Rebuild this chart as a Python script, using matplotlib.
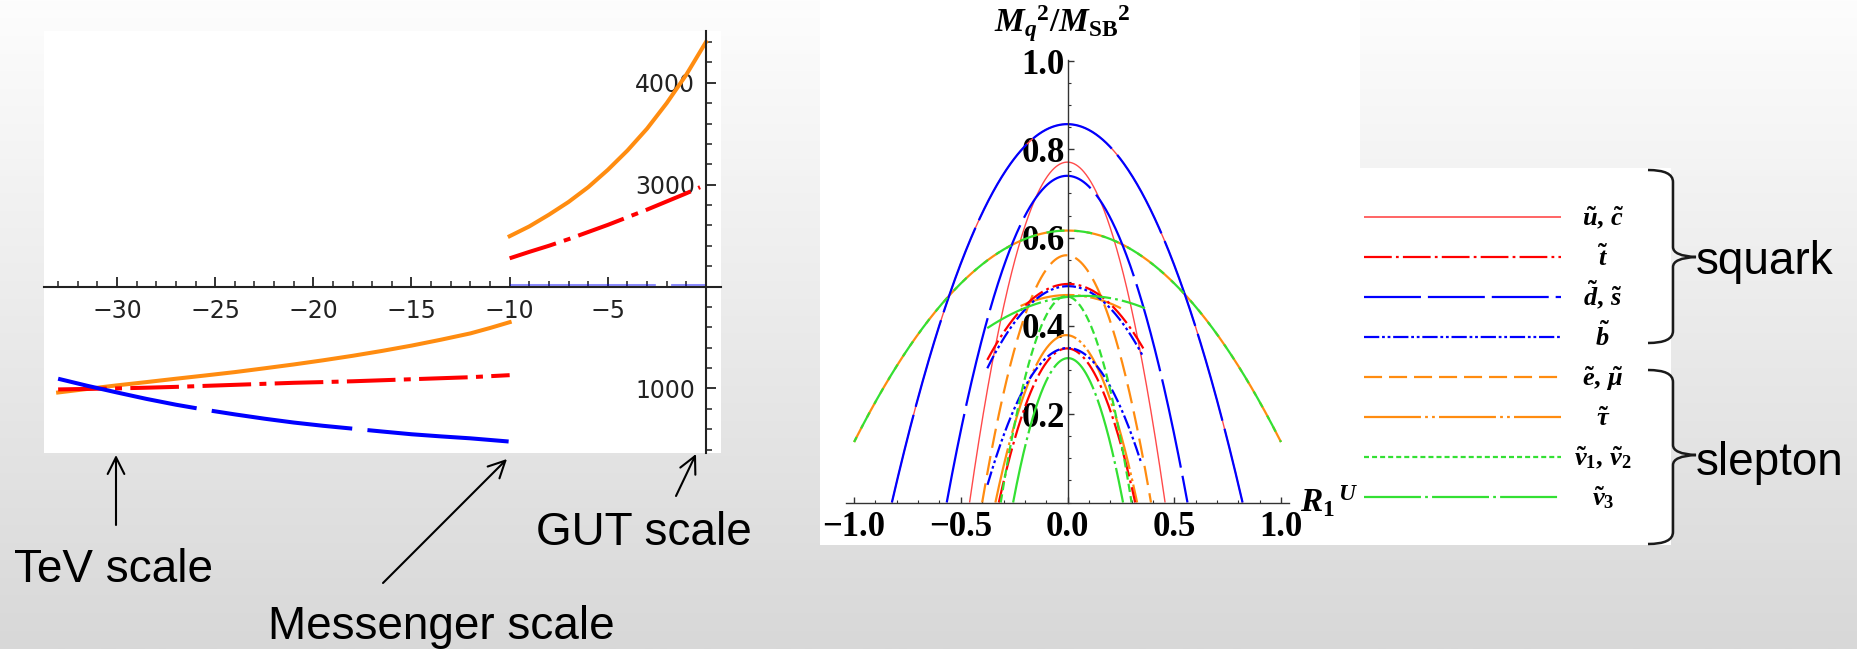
import numpy as np
import matplotlib
matplotlib.use("Agg")
import matplotlib.pyplot as plt
from matplotlib.colors import LinearSegmentedColormap
from matplotlib.patches import Rectangle, PathPatch
from matplotlib.path import Path
from matplotlib.ticker import MultipleLocator

plt.rcParams["lines.scale_dashes"] = False
plt.rcParams["mathtext.fontset"] = "custom"
plt.rcParams["mathtext.rm"] = "Liberation Serif:bold"
plt.rcParams["mathtext.it"] = "Liberation Serif:italic:bold"
plt.rcParams["mathtext.bf"] = "Liberation Serif:bold"

# ---- left panel: running masses vs log scale ----
x_low = [-33, -31.5, -30, -28.5, -27, -25.5, -24, -22.5, -21, -19.5, -18, -16.5, -15, -13.5, -12, -11, -10]
orange_low = [960, 995, 1030, 1062, 1095, 1127, 1160, 1197, 1235, 1276, 1320, 1368, 1420, 1478, 1540, 1593, 1650]
red_low = [990, 995, 1000, 1007, 1015, 1025, 1035, 1045, 1055, 1062, 1070, 1080, 1090, 1100, 1110, 1120, 1130]
blue_low = [1095, 1025, 960, 897, 840, 790, 745, 703, 665, 633, 605, 577, 550, 529, 510, 494, 478]

x_high = [-10, -9, -8, -7, -6, -5, -4, -3, -2, -1, 0]
orange_high = [2494, 2590, 2705, 2830, 2975, 3145, 3335, 3550, 3800, 4080, 4400]
x_red_high = [-10, -9, -8, -7, -6, -5, -4, -3, -2, -1, -0.3]
red_high = [2277, 2340, 2400, 2465, 2535, 2605, 2680, 2755, 2835, 2915, 2975]
x_blue_high = [-10, 0]
blue_high = [2005, 2005]

left_xticks = [-30, -25, -20, -15, -10, -5]
left_xlabels = ["\u221230", "\u221225", "\u221220", "\u221215", "\u221210", "\u22125"]
left_yticks = [1000, 2000, 3000, 4000]
left_ylabels = ["1000", "", "3000", "4000"]

# ---- right panel: M^2/M_SB^2 vs R1^U, three read points per curve ----
uc_x = [[-0.823, 0.0, 0.820], [-0.459, 0.0, 0.457]]
uc_y = [[0.0, 0.857, 0.0], [0.0, 0.771, 0.0]]
t_x = [[-0.376, 0.0, 0.355], [-0.322, 0.0, 0.317]]
t_y = [[0.323, 0.495, 0.349], [0.0, 0.349, 0.0]]
ds_x = [[-0.823, 0.0, 0.820], [-0.566, 0.0, 0.562]]
ds_y = [[0.0, 0.857, 0.0], [0.0, 0.740, 0.0]]
b_x = [[-0.376, 0.0, 0.355], [-0.375, 0.0, 0.345]]
b_y = [[0.304, 0.490, 0.330], [0.040, 0.350, 0.090]]
emu_x = [[-1.0, 0.0, 1.0], [-0.400, 0.0, 0.391]]
emu_y = [[0.137, 0.616, 0.137], [0.0, 0.560, 0.0]]
tau_x = [[-0.22, 0.0, 0.25], [-0.338, 0.0, 0.326]]
tau_y = [[0.445, 0.470, 0.440], [0.0, 0.379, 0.0]]
nu12_x = [[-1.0, 0.0, 1.0], [-0.313, 0.0, 0.300]]
nu12_y = [[0.137, 0.616, 0.137], [0.0, 0.467, 0.0]]
nu3_x = [[-0.376, 0.07, 0.363], [-0.255, 0.0, 0.260]]
nu3_y = [[0.395, 0.468, 0.440], [0.0, 0.327, 0.0]]

right_xticks = [-1.0, -0.5, 0.0, 0.5, 1.0]
right_xlabels = ["\u22121.0", "\u22120.5", "0.0", "0.5", "1.0"]
right_yticks = [0.2, 0.4, 0.6, 0.8, 1.0]
right_ylabels = ["0.2", "0.4", "0.6", "0.8", "1.0"]

legend_labels = [r"$\tilde{u},\,\tilde{c}$", r"$\tilde{t}$", r"$\tilde{d},\,\tilde{s}$",
                 r"$\tilde{b}$", r"$\tilde{e},\,\tilde{\mu}$", r"$\tilde{\tau}$",
                 r"$\tilde{\nu}_1,\,\tilde{\nu}_2$", r"$\tilde{\nu}_3$"]

RED = "#ff0000"
LRED = "#ff4a4a"
BLUE = "#0000ff"
ORANGE = "#ff8c10"
GREEN = "#33e033"

W, H = 1858, 649
fig = plt.figure(figsize=(W / 100, H / 100), dpi=100)

bg = fig.add_axes([0, 0, 1, 1])
bg.set_xlim(0, W)
bg.set_ylim(H, 0)
bg.axis("off")
grad = LinearSegmentedColormap.from_list("bg", ["#fdfdfd", "#d8d8d8"])
bg.imshow(np.linspace(0, 1, 256).reshape(-1, 1), extent=[0, W, H, 0], cmap=grad,
          aspect="auto", origin="upper", zorder=0)
bg.add_patch(Rectangle((43.6, 31), 677.1, 422, fc="white", ec="none", zorder=1))
bg.add_patch(Rectangle((820, 0), 540, 545, fc="white", ec="none", zorder=1))
bg.add_patch(Rectangle((1358, 168), 313, 377, fc="white", ec="none", zorder=1))


def fig_box(x0, y0, x1, y1):
    return [x0 / W, 1 - y1 / H, (x1 - x0) / W, (y1 - y0) / H]


# ---------------- left plot ----------------
axL = fig.add_axes(fig_box(43.6, 31, 720.7, 453))
axL.patch.set_visible(False)
lw = 2.9
axL.plot(x_blue_high, blue_high, color=BLUE, alpha=0.45, lw=lw, ls=(0, (105, 11)))
axL.plot(x_low, orange_low, color=ORANGE, lw=lw)
axL.plot(x_low, red_low, color=RED, lw=lw, ls=(0, (35, 6, 5, 6)))
axL.plot(x_low, blue_low, color=BLUE, lw=lw, ls=(0, (102, 11)))
axL.plot(x_high, orange_high, color=ORANGE, lw=lw)
axL.plot(x_red_high, red_high, color=RED, lw=lw, ls=(0, (35, 6, 5, 6)))
axL.set_xlim(-33.74, 0.75)
axL.set_ylim(366, 4508)
axL.spines["left"].set_position(("data", 0))
axL.spines["bottom"].set_position(("data", 2000))
axL.spines["top"].set_visible(False)
axL.spines["right"].set_visible(False)
for s in ["left", "bottom"]:
    axL.spines[s].set_color("#222222")
    axL.spines[s].set_linewidth(1.5)
axL.set_xticks(left_xticks)
axL.set_xticklabels(left_xlabels)
axL.set_yticks(left_yticks)
axL.set_yticklabels(left_ylabels)
axL.xaxis.set_minor_locator(MultipleLocator(1))
axL.yaxis.set_minor_locator(MultipleLocator(200))
axL.tick_params(axis="both", which="major", direction="in", length=7, width=1.3,
                color="#222222", labelsize=17, labelcolor="#222222")
axL.tick_params(axis="both", which="minor", direction="in", length=4, width=1.1, color="#222222")
axL.tick_params(axis="x", which="major", pad=9)
axL.tick_params(axis="y", which="major", pad=8)

# ---------------- right plot ----------------
axR = fig.add_axes(fig_box(846, 59.7, 1289.5, 502.5))
axR.patch.set_visible(False)

plot_style = {
    "uc": dict(color=LRED, lw=1.0, ls="-", zorder=2.0),
    "t": dict(color=RED, lw=1.6, ls=(0, (16, 3, 2, 3)), zorder=2.1),
    "ds": dict(color=BLUE, lw=1.6, ls=(0, (65, 6)), zorder=2.2),
    "b": dict(color=BLUE, lw=1.6, ls=(0, (10, 2.2, 2, 2.2, 2, 2.2)), zorder=2.1),
    "emu": dict(color=ORANGE, lw=1.6, ls=(0, (14, 6)), zorder=2.0),
    "tau": dict(color=ORANGE, lw=1.6, ls=(0, (40, 2.5, 2, 2.5, 2, 2.5)), zorder=2.0),
    "nu12": dict(color=GREEN, lw=1.6, ls=(0, (6, 3)), zorder=2.2),
    "nu3": dict(color=GREEN, lw=1.6, ls=(0, (43, 3, 2, 3)), zorder=2.2),
}
legend_style = {
    "uc": dict(color=LRED, lw=1.2, ls="-"),
    "t": dict(color=RED, lw=1.6, ls=(0, (20, 3, 2, 3))),
    "ds": dict(color=BLUE, lw=1.6, ls=(0, (41, 5))),
    "b": dict(color=BLUE, lw=1.6, ls=(0, (11, 2, 2, 2, 2, 2))),
    "emu": dict(color=ORANGE, lw=1.6, ls=(0, (13, 5))),
    "tau": dict(color=ORANGE, lw=1.6, ls=(0, (41, 3, 2, 3, 2, 3))),
    "nu12": dict(color=GREEN, lw=1.6, ls=(0, (3.6, 2.2))),
    "nu3": dict(color=GREEN, lw=1.6, ls=(0, (41, 3, 2, 3))),
}
species = ["uc", "t", "ds", "b", "emu", "tau", "nu12", "nu3"]
curve_x = {"uc": uc_x, "t": t_x, "ds": ds_x, "b": b_x, "emu": emu_x,
           "tau": tau_x, "nu12": nu12_x, "nu3": nu3_x}
curve_y = {"uc": uc_y, "t": t_y, "ds": ds_y, "b": b_y, "emu": emu_y,
           "tau": tau_y, "nu12": nu12_y, "nu3": nu3_y}

for sp in species:
    for k in range(2):
        xs, ys = curve_x[sp][k], curve_y[sp][k]
        coef = np.polyfit(xs, ys, 2)
        xx = np.linspace(xs[0], xs[-1], 400)
        st = dict(plot_style[sp])
        if sp == "nu12" and k == 0:
            # wide curve sits on the orange one, dashes interleave
            st["ls"] = (9, (13, 7))
        axR.plot(xx, np.polyval(coef, xx), solid_capstyle="butt", **st)

axR.set_xlim(-1.038, 1.04)
axR.set_ylim(0, 1.003)
axR.spines["left"].set_position(("data", 0))
axR.spines["bottom"].set_position(("data", 0))
axR.spines["top"].set_visible(False)
axR.spines["right"].set_visible(False)
for s in ["left", "bottom"]:
    axR.spines[s].set_color("#333333")
    axR.spines[s].set_linewidth(1.0)
    axR.spines[s].set_zorder(3)
axR.set_xticks(right_xticks)
axR.set_xticklabels(right_xlabels)
axR.set_yticks(right_yticks)
axR.set_yticklabels(right_ylabels)
axR.xaxis.set_minor_locator(MultipleLocator(0.1))
axR.yaxis.set_minor_locator(MultipleLocator(0.05))
axR.tick_params(axis="both", which="major", direction="in", length=4, width=1.0, color="#333333")
axR.tick_params(axis="both", which="minor", direction="in", length=2.5, width=0.8, color="#333333")
axR.tick_params(axis="x", which="major", pad=6)
axR.tick_params(axis="y", which="major", pad=2)
for lab in axR.get_xticklabels() + axR.get_yticklabels():
    lab.set_fontfamily("Liberation Serif")
    lab.set_fontweight("bold")
    lab.set_fontsize(25)

bg.text(994, 31.7, r"$M_q{}^2/M_{\mathrm{SB}}{}^2$", fontsize=24, ha="left", va="baseline", zorder=5)
bg.text(1300, 512, r"$R_1{}^{\,U}$", fontsize=24, ha="left", va="baseline", zorder=5)

# legend drawn in the white box
for i, sp in enumerate(species):
    yl = 216.7 + 40 * i
    bg.plot([1364, 1561], [yl, yl], solid_capstyle="butt", zorder=3, **legend_style[sp])
    bg.text(1603, yl + 9, legend_labels[i], fontsize=19, ha="center", va="baseline", zorder=3)


# braces
def brace(y0, ymid, y1, xl=1648, xv=1673, xt=1696):
    verts = [(xl, y0), (xv, y0), (xv, y0 + 12), (xv, ymid - 10),
             (xv, ymid - 1), (xt, ymid), (xv, ymid + 1), (xv, ymid + 10),
             (xv, y1 - 12), (xv, y1), (xl, y1)]
    codes = [Path.MOVETO, Path.CURVE3, Path.CURVE3, Path.LINETO,
             Path.CURVE3, Path.CURVE3, Path.CURVE3, Path.CURVE3,
             Path.LINETO, Path.CURVE3, Path.CURVE3]
    bg.add_patch(PathPatch(Path(verts, codes), fc="none", ec="#1a1a1a", lw=1.8, zorder=4))


brace(170, 257, 343)
brace(370, 455, 544)

slide_font = dict(family="Liberation Sans", fontsize=33, color="black", zorder=5)
bg.text(1696, 274, "squark", ha="left", va="baseline", **slide_font)
bg.text(1696, 475, "slepton", ha="left", va="baseline", **slide_font)
bg.text(114, 582, "TeV scale", ha="center", va="baseline", **slide_font)
bg.text(441, 639, "Messenger scale", ha="center", va="baseline", **slide_font)
bg.text(644, 545, "GUT scale", ha="center", va="baseline", **slide_font)

arrow = dict(arrowstyle="->,head_length=0.6,head_width=0.3", lw=1.5, color="black",
             shrinkA=0, shrinkB=0, mutation_scale=20)
bg.annotate("", xy=(116, 455), xytext=(116, 525), arrowprops=arrow, zorder=5)
bg.annotate("", xy=(507, 459), xytext=(383, 583), arrowprops=arrow, zorder=5)
bg.annotate("", xy=(696, 454), xytext=(676, 496), arrowprops=arrow, zorder=5)

fig.savefig("out.png", dpi=100)
